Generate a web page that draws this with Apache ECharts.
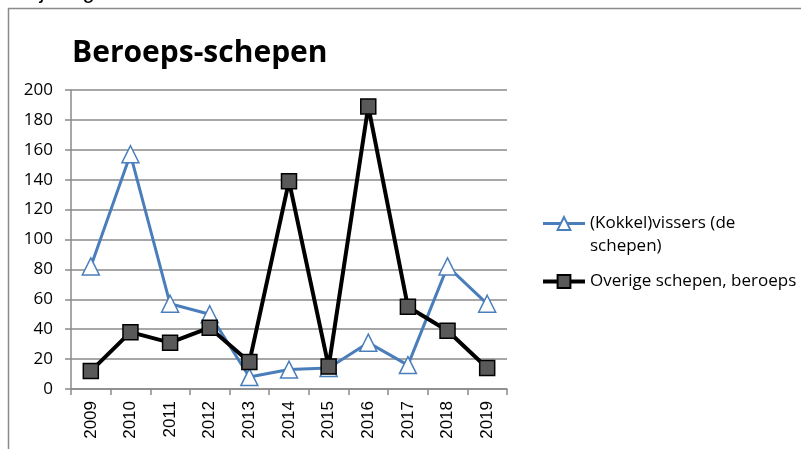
<!DOCTYPE html>
<html>
<head>
<meta charset="utf-8">
<script src="https://cdn.jsdelivr.net/npm/echarts@6/dist/echarts.min.js"></script>
<style>
  html, body { margin: 0; padding: 0; background: #fff; }
  #grafica { width: 801px; height: 449px; }
</style>
</head>
<body>
<div id="grafica"></div>
<script>
const years = ["2009", "2010", "2011", "2012", "2013", "2014", "2015", "2016", "2017", "2018", "2019"];
const kokkelVissers = [82, 157, 57, 50, 8, 13, 14, 31, 16, 82, 57];
const overigeSchepen = [12, 38, 31, 41, 18, 139, 15, 189, 55, 39, 14];
const yTicks = [0, 20, 40, 60, 80, 100, 120, 140, 160, 180, 200];
const seriesNames = ["(Kokkel)vissers (de schepen)", "Overige schepen, beroeps"];

const fontLabel = "'Open Sans', 'Noto Sans', sans-serif";
const fontAxisX = "'Liberation Sans', Arial, sans-serif";

const option = {
  animation: false,
  title: {
    text: "Beroeps-schepen",
    left: 67,
    top: 33,
    textStyle: {
      fontFamily: fontLabel,
      fontWeight: "bold",
      fontSize: 30,
      color: "#000",
    },
  },
  graphic: [
    {
      type: "text",
      left: -2,
      top: -19,
      style: {
        text: "tien jaar geleden.",
        font: "22px 'Liberation Sans', Arial, sans-serif",
        fill: "#000",
      },
    },
    {
      type: "rect",
      shape: { x: 8.5, y: 8.5, width: 800, height: 450 },
      style: { fill: "none", stroke: "#8a8a8a", lineWidth: 1.5 },
    },
  ],
  legend: {
    orient: "vertical",
    left: 536,
    top: 184,
    itemWidth: 42,
    itemHeight: 16,
    itemGap: 12,
    data: [
      { name: seriesNames[0], lineStyle: { width: 3 } },
      { name: seriesNames[1], lineStyle: { width: 4 } },
    ],
    textStyle: {
      fontFamily: fontLabel,
      fontSize: 17,
      color: "#000",
      lineHeight: 23,
    },
    // lege eerste regel zodat het icoon bij de eerste tekstregel staat
    formatter: (name) => (name === seriesNames[0] ? " \n(Kokkel)vissers (de\nschepen)" : name),
  },
  grid: { left: 71, right: 294, top: 90, bottom: 60 },
  xAxis: {
    type: "category",
    data: years,
    boundaryGap: true,
    axisLine: { lineStyle: { color: "#8a8a8a", width: 1.5 } },
    axisTick: { show: true, length: 6, lineStyle: { color: "#8a8a8a", width: 1.5 } },
    axisLabel: {
      rotate: 90,
      fontFamily: fontAxisX,
      fontSize: 17,
      color: "#000",
      margin: 12,
    },
  },
  yAxis: {
    type: "value",
    min: 0,
    max: 200,
    interval: 20,
    axisLine: { show: true, lineStyle: { color: "#8a8a8a", width: 1.5 } },
    axisTick: { show: true, length: 6, lineStyle: { color: "#8a8a8a", width: 1.5 } },
    splitLine: { lineStyle: { color: "#8a8a8a", width: 1.5 } },
    axisLabel: {
      fontFamily: fontLabel,
      fontSize: 17,
      color: "#000",
      margin: 18,
      formatter: (v) => (yTicks.includes(v) ? String(v) : ""),
    },
  },
  series: [
    {
      name: seriesNames[0],
      type: "line",
      data: kokkelVissers,
      symbol: "triangle",
      symbolSize: 17,
      showAllSymbol: true,
      lineStyle: { color: "#4a7ebb", width: 3 },
      itemStyle: { color: "#ffffff", borderColor: "#4a7ebb", borderWidth: 1.5 },
      z: 2,
    },
    {
      name: seriesNames[1],
      type: "line",
      data: overigeSchepen,
      symbol: "rect",
      symbolSize: 15,
      showAllSymbol: true,
      lineStyle: { color: "#000000", width: 4 },
      itemStyle: { color: "#595959", borderColor: "#000000", borderWidth: 1.5 },
      z: 3,
    },
  ],
};

const myChart = echarts.init(document.querySelector("#grafica"));
myChart.setOption(option);
</script>
</body>
</html>
